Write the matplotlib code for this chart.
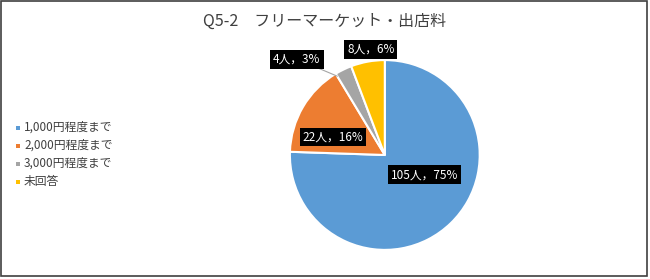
import matplotlib
matplotlib.use("Agg")
import matplotlib.pyplot as plt
from matplotlib.patches import Rectangle

plt.rcParams['font.family'] = ['Noto Sans CJK JP', 'DejaVu Sans']

categories = ['1,000円程度まで', '2,000円程度まで', '3,000円程度まで', '未回答']
counts = [105, 22, 4, 8]
pcts = [75, 16, 3, 6]
colors = ['#5B9BD5', '#ED7D31', '#A5A5A5', '#FFC000']
title = 'Q5-2\u3000フリーマーケット・出店料'

fig = plt.figure(figsize=(6.5, 2.79), dpi=100)
fig.patches.append(Rectangle((0.002, 0.01), 0.993, 0.985, transform=fig.transFigure,
                             fill=False, edgecolor='#404040', linewidth=1.2))
fig.text(0.5, 0.925, title, ha='center', va='center', fontsize=11.5, color='#404040')

ax = fig.add_axes([0.446, 0.104, 0.292, 0.681])
wedges, _ = ax.pie(counts, colors=colors, startangle=90, counterclock=False,
                   wedgeprops=dict(edgecolor='white', linewidth=1.5))
ax.set_xlim(-1, 1)
ax.set_ylim(-1, 1)
ax.set_aspect('equal')

box = dict(boxstyle='square,pad=0.25', facecolor='black', edgecolor='none')
label_pos = [(0.42, -0.21), (-0.547, 0.19), (-0.926, 1.01), (-0.147, 1.116)]
for i, (c, p) in enumerate(zip(counts, pcts)):
    txt = f'{c}人，{p}%'
    x, y = label_pos[i]
    if i == 2:
        ax.annotate(txt, xy=(-0.50, 0.83), xytext=(x, y), ha='center', va='center',
                    fontsize=8.5, color='white', bbox=box, annotation_clip=False,
                    arrowprops=dict(arrowstyle='-', color='#A5A5A5', lw=0.8,
                                    shrinkA=0, shrinkB=0))
    else:
        ax.text(x, y, txt, ha='center', va='center', fontsize=8.5, color='white',
                bbox=box, clip_on=False)

ys = [127, 145, 163, 181]
for cat, col, yp in zip(categories, colors, ys):
    fy = 1 - yp / 279
    fig.patches.append(Rectangle((0.024, fy - 0.009), 0.006, 0.014, transform=fig.transFigure,
                                 facecolor=col, edgecolor='none'))
    fig.text(0.037, fy, cat, ha='left', va='center', fontsize=8.5, color='#404040')

fig.savefig('out.png', dpi=100)
